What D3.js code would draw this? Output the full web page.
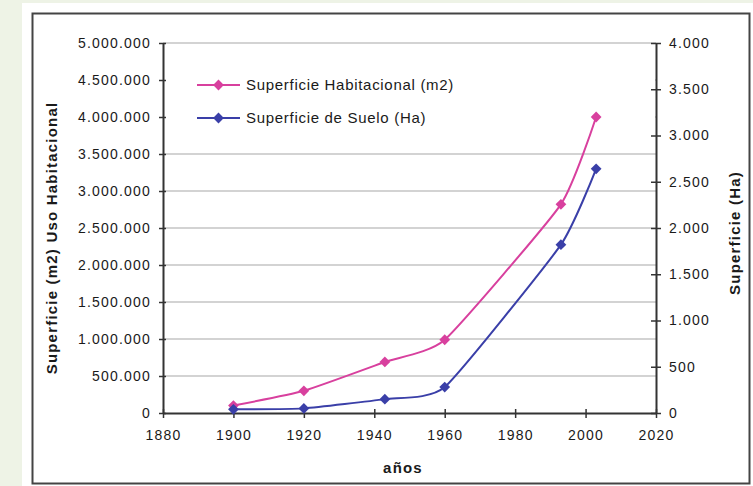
<!DOCTYPE html>
<html>
<head>
<meta charset="utf-8">
<script src="https://cdn.jsdelivr.net/npm/d3@7"></script>
<style>
  html, body { margin: 0; padding: 0; background: #eef3e6; }
  svg { display: block; }
  text { font-family: "Liberation Sans", Arial, sans-serif; fill: #1a1a1a; }
</style>
</head>
<body>
<svg id="chart" width="753" height="486"></svg>
<script>
// data
const years = [1900, 1920, 1943, 1960, 1993, 2003];
const habitacional = [100000, 300000, 690000, 990000, 2820000, 4000000]; // m2, left axis
const suelo = [40, 50, 150, 280, 1820, 2640]; // Ha, right axis
const xTicks = [1880, 1900, 1920, 1940, 1960, 1980, 2000, 2020];
const leftTicks = d3.range(0, 5000001, 500000);
const rightTicks = d3.range(0, 4001, 500);
const seriesNames = ["Superficie Habitacional (m2)", "Superficie de Suelo (Ha)"];

const pink = "#d8409e";
const blue = "#3a3fa8";

const svg = d3.select("#chart");

// white panel + frame
svg.append("rect").attr("x", 22).attr("y", 3).attr("width", 731).attr("height", 483).attr("fill", "#fff");
svg.append("rect").attr("x", 32.5).attr("y", 13.5).attr("width", 717).attr("height", 470)
    .attr("fill", "none").attr("stroke", "#444").attr("stroke-width", 2);

const margin = { left: 163, right: 656, top: 43, bottom: 413 };

const x = d3.scaleLinear().domain([1880, 2020]).range([margin.left, margin.right]);
const yL = d3.scaleLinear().domain([0, 5000000]).range([margin.bottom, margin.top]);
const yR = d3.scaleLinear().domain([0, 4000]).range([margin.bottom, margin.top]);

const fmt = v => d3.format(",")(v).replace(/,/g, ".");

// gridlines
svg.append("g").selectAll("line")
    .data(leftTicks.filter(d => d > 0))
    .join("line")
    .attr("x1", margin.left).attr("x2", margin.right)
    .attr("y1", d => yL(d)).attr("y2", d => yL(d))
    .attr("stroke", "#c4c4c4").attr("stroke-width", 1.6);

// legend background hides the gridlines behind it, across the plot
svg.append("rect")
    .attr("x", margin.left + 1).attr("y", 62)
    .attr("width", margin.right - margin.left - 2).attr("height", 72)
    .attr("fill", "#fff");

// axes
const tickStyle = g => {
    g.select(".domain").attr("stroke", "#333").attr("stroke-width", 2);
    g.selectAll(".tick line").attr("stroke", "#333").attr("stroke-width", 1.5);
    g.selectAll(".tick text")
        .attr("font-size", 14).attr("letter-spacing", 1.2).attr("fill", "#1a1a1a")
        .style("font-family", "'Liberation Sans', Arial, sans-serif");
};

const gx = svg.append("g")
    .attr("transform", `translate(0,${margin.bottom})`)
    .call(d3.axisBottom(x).tickValues(xTicks).tickFormat(d3.format("d")).tickSizeInner(5).tickSizeOuter(0).tickPadding(12))
    .call(tickStyle);
gx.selectAll(".tick line").attr("y1", -4);

const gl = svg.append("g")
    .attr("transform", `translate(${margin.left},0)`)
    .call(d3.axisLeft(yL).tickValues(leftTicks).tickFormat(fmt).tickSizeInner(4).tickSizeOuter(0).tickPadding(8))
    .call(tickStyle);
gl.selectAll(".tick line").attr("x1", 3);

const gr = svg.append("g")
    .attr("transform", `translate(${margin.right},0)`)
    .call(d3.axisRight(yR).tickValues(rightTicks).tickFormat(fmt).tickSizeInner(5).tickSizeOuter(0).tickPadding(8))
    .call(tickStyle);
gr.selectAll(".tick line").attr("x1", -5);

// axis titles
svg.append("text")
    .attr("transform", `translate(57,${(margin.top + margin.bottom) / 2 + 10}) rotate(-90)`)
    .attr("text-anchor", "middle").attr("font-size", 15).attr("font-weight", "bold").attr("letter-spacing", 1.2)
    .text("Superficie (m2) Uso Habitacional");
svg.append("text")
    .attr("transform", `translate(740,233) rotate(-90)`)
    .attr("text-anchor", "middle").attr("font-size", 15).attr("font-weight", "bold").attr("letter-spacing", 1.2)
    .text("Superficie (Ha)");
svg.append("text")
    .attr("x", 403).attr("y", 473)
    .attr("text-anchor", "middle").attr("font-size", 15).attr("font-weight", "bold").attr("letter-spacing", 1.2)
    .text("años");

// series
const diamond = d3.symbol().type(d3.symbolSquare).size(58);
const series = [
    { name: seriesNames[0], values: habitacional, y: yL, color: pink },
    { name: seriesNames[1], values: suelo, y: yR, color: blue }
];

const line = (ys) => d3.line()
    .x((d, i) => x(years[i]))
    .y(d => ys(d))
    .curve(d3.curveCardinal.tension(0.5));

series.forEach(s => {
    svg.append("path")
        .datum(s.values)
        .attr("d", line(s.y))
        .attr("fill", "none").attr("stroke", s.color).attr("stroke-width", 2);
    svg.append("g").selectAll("path")
        .data(s.values)
        .join("path")
        .attr("d", diamond)
        .attr("transform", (d, i) => `translate(${x(years[i])},${s.y(d)}) rotate(45)`)
        .attr("fill", s.color);
});

// legend
const legend = svg.append("g").attr("transform", "translate(197,85)");
series.forEach((s, i) => {
    const g = legend.append("g").attr("transform", `translate(0,${i * 33})`);
    g.append("line").attr("x1", 0).attr("x2", 43).attr("stroke", s.color).attr("stroke-width", 2);
    g.append("path").attr("d", diamond).attr("transform", "translate(21.5,0) rotate(45)").attr("fill", s.color);
    g.append("text").attr("x", 49).attr("y", 5).attr("font-size", 15).attr("letter-spacing", 0.7).text(s.name);
});
</script>
</body>
</html>
